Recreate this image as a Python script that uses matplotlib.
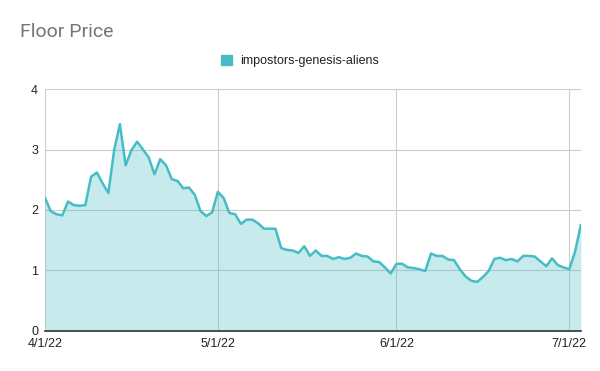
import matplotlib
matplotlib.use("Agg")
from matplotlib import pyplot as plt
import numpy as np
import pandas as pd

series_name = "impostors-genesis-aliens"
start_date = "2022-04-01"
floor_price = [
    2.20, 1.98, 1.93, 1.91, 2.14, 2.08, 2.07, 2.08, 2.55, 2.62,
    2.44, 2.28, 2.99, 3.42, 2.74, 2.99, 3.13, 3.00, 2.87, 2.59,
    2.84, 2.74, 2.51, 2.48, 2.36, 2.37, 2.25, 1.98, 1.90, 1.96,
    2.30, 2.20, 1.95, 1.93, 1.77, 1.84, 1.84, 1.78, 1.69, 1.69,
    1.69, 1.37, 1.34, 1.33, 1.29, 1.40, 1.24, 1.33, 1.24, 1.24,
    1.19, 1.22, 1.19, 1.21, 1.28, 1.24, 1.23, 1.15, 1.14, 1.05,
    0.95, 1.11, 1.11, 1.05, 1.04, 1.02, 0.99, 1.28, 1.24, 1.24,
    1.18, 1.17, 1.02, 0.90, 0.83, 0.81, 0.89, 0.99, 1.19, 1.21,
    1.17, 1.19, 1.15, 1.24, 1.24, 1.23, 1.15, 1.07, 1.20, 1.09,
    1.05, 1.02, 1.31, 1.75,
]
x_ticks = ["2022-04-01", "2022-05-01", "2022-06-01", "2022-07-01"]
x_labels = ["4/1/22", "5/1/22", "6/1/22", "7/1/22"]
y_ticks = [0, 1, 2, 3, 4]

dates = pd.date_range(start_date, periods=len(floor_price), freq="D")
line_color = "#46BDC6"

plt.rcParams["font.family"] = ["Liberation Sans", "DejaVu Sans"]

fig = plt.figure(figsize=(6, 3.71), dpi=100)
ax = fig.add_axes([0.075, 0.108, 0.893, 0.652])

ax.fill_between(dates, floor_price, 0, color=line_color, alpha=0.3, linewidth=0)
ax.plot(dates, floor_price, color=line_color, linewidth=1.8, label=series_name)

ax.set_xlim(dates[0], dates[-1])
ax.set_ylim(0, 4)
ax.set_yticks(y_ticks)
ax.set_xticks(pd.to_datetime(x_ticks))
ax.set_xticklabels(x_labels)

ax.grid(True, color="#cccccc", linewidth=0.8)
ax.set_axisbelow(True)
for side in ["top", "right", "left"]:
    ax.spines[side].set_visible(False)
ax.spines["bottom"].set_color("#333333")
ax.spines["bottom"].set_linewidth(1.2)
ax.tick_params(length=0, labelsize=9, colors="#222222", pad=5)
ax.tick_params(axis="x", pad=5)

fig.text(0.033, 0.915, "Floor Price", fontsize=14, color="#757575", va="center",
         family=["Roboto", "DejaVu Sans"])

handle = plt.Rectangle((0, 0), 1, 1, color=line_color)
fig.legend([handle], [series_name], loc="center", bbox_to_anchor=(0.5, 0.835),
           frameon=False, fontsize=9, handlelength=0.9, handleheight=0.9,
           handletextpad=0.6, labelcolor="#222222")

fig.savefig("out.png", dpi=100)
